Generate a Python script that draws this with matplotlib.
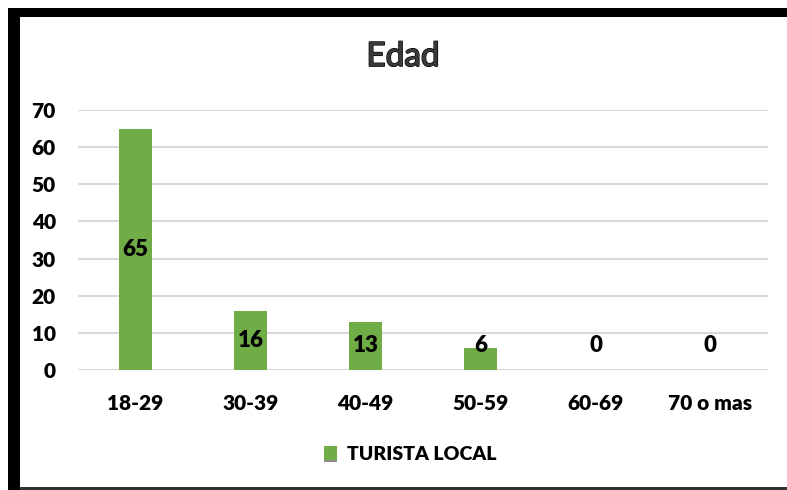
import matplotlib
matplotlib.use("Agg")
import matplotlib.pyplot as plt
import matplotlib.patheffects as pe
from matplotlib.patches import Rectangle

categories = ["18-29", "30-39", "40-49", "50-59", "60-69", "70 o mas"]
values = [65, 16, 13, 6, 0, 0]
series_name = "TURISTA LOCAL"
title = "Edad"
yticks = [0, 10, 20, 30, 40, 50, 60, 70]

W, H = 787, 490
green = "#70ad47"

plt.rcParams["font.family"] = ["Lato", "DejaVu Sans"]

fig = plt.figure(figsize=(W / 100, H / 100), dpi=100)
fig.patch.set_facecolor("white")

# plot area in pixels: x 78..768, y 110..370
ax = fig.add_axes([78 / W, 1 - 370 / H, 690 / W, 260 / H])
x = range(len(categories))
bars = ax.bar(x, values, width=0.28, color=green, zorder=3, label=series_name)
for b in bars:
    b.set_path_effects([pe.SimplePatchShadow(offset=(0, -1.5), shadow_rgbFace="black", alpha=0.45),
                        pe.Normal()])

ax.set_xlim(-0.5, len(categories) - 0.5)
ax.set_ylim(0, 70)
ax.set_yticks(yticks)
ax.set_xticks(list(x))
ax.set_xticklabels(categories)
ax.tick_params(axis="both", length=0, labelsize=15)
ax.tick_params(axis="y", pad=16)
ax.tick_params(axis="x", pad=17)
for lbl in ax.get_xticklabels() + ax.get_yticklabels():
    lbl.set_fontweight("heavy")
ax.grid(axis="y", color="#d9d9d9", linewidth=1.5, zorder=0)
for s in ax.spines.values():
    s.set_visible(False)

# data labels (centered, pushed up for small bars)
for xi, v in zip(x, values):
    ax.text(xi, max(v / 2, 6.7), str(v), ha="center", va="center",
            fontsize=16, fontweight="heavy", color="black", zorder=4)

fig.text(403 / W, 1 - 57 / H, title, ha="center", va="center", fontsize=24,
         color="#3a3a3a",
         path_effects=[pe.withStroke(linewidth=1.2, foreground="black"), pe.Normal()])

leg = fig.legend(handles=[bars], loc="center", bbox_to_anchor=(410 / W, 1 - 454 / H),
                 frameon=False, handlelength=0.7, handleheight=0.7, handletextpad=0.5,
                 prop={"size": 14, "weight": "heavy"})

# frame around the chart
fig.patches.append(Rectangle((8 / W, 0), 12 / W, 1 - 8 / H, transform=fig.transFigure,
                             facecolor="black", edgecolor="none"))
fig.patches.append(Rectangle((8 / W, 1 - 17 / H), 1, 9 / H, transform=fig.transFigure,
                             facecolor="black", edgecolor="none"))
fig.patches.append(Rectangle((20 / W, 0), 1, 3 / H, transform=fig.transFigure,
                             facecolor="#333333", edgecolor="none"))

fig.savefig("out.png", dpi=100)
